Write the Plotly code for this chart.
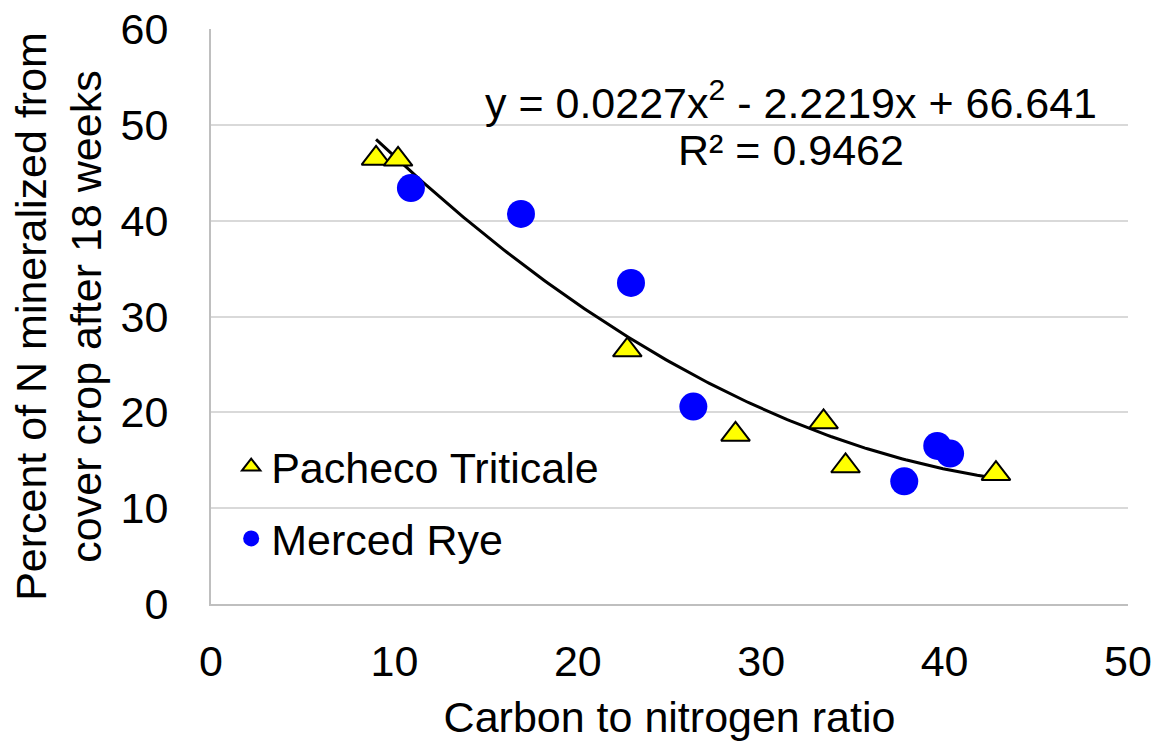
import numpy as np
import plotly.graph_objects as go

# Data
triticale_cn = [9.0, 10.2, 22.7, 28.6, 33.4, 34.6, 42.8]
triticale_pct = [46.5, 46.4, 26.5, 17.7, 19.0, 14.4, 13.6]

rye_cn = [10.9, 16.9, 22.9, 26.3, 37.8, 39.6, 40.3]
rye_pct = [43.4, 40.7, 33.5, 20.6, 12.8, 16.5, 15.7]

# Trendline coefficients shown on the chart
coef_a, coef_b, coef_c = 0.0227, -2.2219, 66.641
r_squared = 0.9462

x_ticks = [0, 10, 20, 30, 40, 50]
y_ticks = [0, 10, 20, 30, 40, 50, 60]

FONT = "Arial, Liberation Sans, sans-serif"
FS = 43

all_x = triticale_cn + rye_cn
xfit = np.linspace(min(all_x), max(all_x), 200)
yfit = coef_a * xfit**2 + coef_b * xfit + coef_c

fig = go.Figure()
fig.add_trace(go.Scatter(
    x=xfit, y=yfit, mode="lines", line=dict(color="black", width=3),
    showlegend=False, hoverinfo="skip"))
fig.add_trace(go.Scatter(
    x=triticale_cn, y=triticale_pct, mode="markers", name="Pacheco Triticale",
    legendgroup="a",
    marker=dict(symbol="triangle-up", size=25, color="#FFFF00",
                line=dict(color="black", width=2))))
fig.add_trace(go.Scatter(
    x=rye_cn, y=rye_pct, mode="markers", name="Merced Rye",
    legendgroup="b",
    marker=dict(symbol="circle", size=28, color="#0000FF",
                line=dict(width=0))))

fig.add_annotation(
    x=0.6325, y=0.877, xref="paper", yref="paper", xanchor="center", yanchor="middle",
    text=f"y = {coef_a}x<sup>2</sup> - {abs(coef_b)}x + {coef_c}",
    showarrow=False, font=dict(family=FONT, size=FS, color="black"))
fig.add_annotation(
    x=0.6325, y=0.790, xref="paper", yref="paper", xanchor="center", yanchor="middle",
    text=f"R² = {r_squared}",
    showarrow=False, font=dict(family=FONT, size=FS, color="black"))

fig.update_layout(
    width=1152, height=743,
    margin=dict(l=211, r=24, t=29, b=139),
    paper_bgcolor="white", plot_bgcolor="white",
    font=dict(family=FONT, size=FS, color="black"),
    legend=dict(x=0.022, y=0.299, xanchor="left", yanchor="top",
                bgcolor="rgba(0,0,0,0)", font=dict(family=FONT, size=FS),
                traceorder="grouped", tracegroupgap=13, itemwidth=30,
                itemsizing="trace"),
    xaxis=dict(range=[0, 50], tickvals=x_ticks, showgrid=False, zeroline=False,
               showline=True, linecolor="#bfbfbf", linewidth=2, automargin=False,
               ticks="", ticklabelstandoff=18,
               title=dict(text="Carbon to nitrogen ratio", standoff=18,
                          font=dict(family=FONT, size=FS))),
    yaxis=dict(range=[0, 60], tickvals=y_ticks, showgrid=True, gridcolor="#d9d9d9",
               gridwidth=2, zeroline=False, showline=True, linecolor="#bfbfbf",
               linewidth=2, ticks="", ticklabelstandoff=32, automargin=False,
               title=dict(text="Percent of N mineralized from<br>cover crop after 18 weeks",
                          standoff=5, font=dict(family=FONT, size=FS))),
)

fig.write_html("out.html")
